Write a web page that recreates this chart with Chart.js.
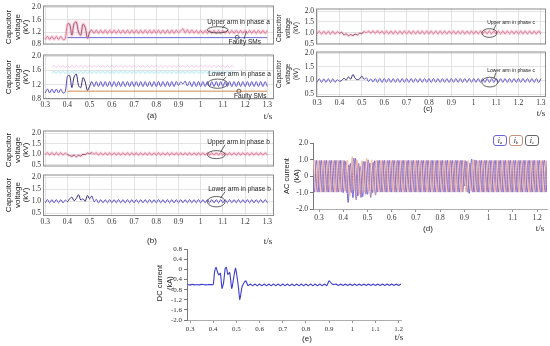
<!DOCTYPE html>
<html lang="en">
<head>
<meta charset="UTF-8">
<title>MMC fault waveforms</title>
<script src="https://cdn.jsdelivr.net/npm/chart.js"></script>
<style>
    body {
        margin: 0;
        width: 550px;
        height: 346px;
        position: relative;
        overflow: hidden;
        background: #fff;
        font-family: "Liberation Sans", Arial, sans-serif;
        color: #222;
    }
    canvas { position: absolute; }
    .lbl {
        position: absolute;
        white-space: nowrap;
        transform: translate(-50%, -50%);
    }
    .yt {
        position: absolute;
        white-space: nowrap;
        text-align: center;
        transform: translate(-50%, -50%) rotate(-90deg);
    }
    .leg {
        position: absolute;
        width: 12px;
        height: 9px;
        border: 1px solid;
        border-radius: 3px;
        background: #fff;
        font: italic 8px "Liberation Serif", serif;
        line-height: 9px;
        text-align: center;
    }
    .leg sub { font-size: 5px; vertical-align: -1px; }
</style>
</head>
<body>
<canvas id="a1"></canvas>
<canvas id="a2"></canvas>
<canvas id="b1"></canvas>
<canvas id="b2"></canvas>
<canvas id="c1"></canvas>
<canvas id="c2"></canvas>
<canvas id="d1"></canvas>
<canvas id="e1"></canvas>

<div class="yt" style="left:18px;top:27px;font-size:8px;line-height:8.5px">Capacitor<br>voltage<br>(kV)</div>
<div class="yt" style="left:18px;top:77px;font-size:8px;line-height:8.5px">Capacitor<br>voltage<br>(kV)</div>
<div class="yt" style="left:18px;top:150px;font-size:8px;line-height:8.5px">Capacitor<br>voltage<br>(kV)</div>
<div class="yt" style="left:18px;top:195px;font-size:8px;line-height:8.5px">Capacitor<br>voltage<br>(kV)</div>
<div class="yt" style="left:288px;top:28px;font-size:6.5px;line-height:8.5px">Capacitor<br>voltage<br>(kV)</div>
<div class="yt" style="left:288px;top:74px;font-size:6.5px;line-height:8.5px">Capacitor<br>voltage<br>(kV)</div>
<div class="yt" style="left:292px;top:176px;font-size:7.5px;line-height:10px">AC current<br>(kA)</div>
<div class="yt" style="left:164px;top:283px;font-size:7.5px;line-height:9.5px">DC current<br>(kA)</div>

<div class="lbl" style="left:152px;top:115px;font-size:8px">(a)</div>
<div class="lbl" style="left:268px;top:116px;font:9px 'Liberation Serif',serif">t/s</div>
<div class="lbl" style="left:152px;top:240px;font-size:8px">(b)</div>
<div class="lbl" style="left:268px;top:241px;font:9px 'Liberation Serif',serif">t/s</div>
<div class="lbl" style="left:428px;top:108px;font-size:8px">(c)</div>
<div class="lbl" style="left:541px;top:113px;font:9px 'Liberation Serif',serif">t/s</div>
<div class="lbl" style="left:428px;top:228px;font-size:8px">(d)</div>
<div class="lbl" style="left:540px;top:228px;font:9px 'Liberation Serif',serif">t/s</div>
<div class="lbl" style="left:307px;top:338px;font-size:8px">(e)</div>
<div class="lbl" style="left:399px;top:337px;font:9px 'Liberation Serif',serif">t/s</div>

<div class="leg" style="left:493px;top:135px;border-color:#6c63d9">i<sub>a</sub></div>
<div class="leg" style="left:509px;top:135px;border-color:#c8907a">i<sub>b</sub></div>
<div class="leg" style="left:525px;top:135px;border-color:#666">i<sub>c</sub></div>

<script>
// capacitor voltages, sampled every 10 ms from 0.30 s (peaks and troughs of the ripple)
const capStart = 0.30, capStep = 0.01;
const upperA = [
    0.96,1.06,0.96,1.06,0.96,1.06,0.96,1.06,0.96,0.98,
    1.45,1.45,1.10,1.47,1.52,1.20,1.10,1.45,1.35,1.00,
    1.20,1.26,1.16,1.26,1.16,1.26,1.16,1.26,1.16,1.26,
    1.16,1.26,1.16,1.26,1.16,1.26,1.16,1.26,1.16,1.26,
    1.16,1.26,1.16,1.26,1.16,1.26,1.16,1.26,1.16,1.26,
    1.16,1.26,1.16,1.26,1.16,1.26,1.16,1.26,1.16,1.26,
    1.18,1.24,1.30,1.18,1.27,1.17,1.26,1.17,1.25,1.16,
    1.25,1.16,1.25,1.16,1.25,1.16,1.25,1.16,1.25,1.16,
    1.25,1.16,1.25,1.16,1.25,1.16,1.25,1.16,1.25,1.16,
    1.25,1.16,1.25,1.16,1.25,1.16,1.25,1.16,1.25,1.16,
    1.25
];
const lowerA = [
    0.97,1.08,0.97,1.08,0.97,1.08,0.97,1.08,0.97,1.00,
    1.44,1.46,1.12,1.42,1.50,1.18,1.12,1.40,1.28,1.04,
    1.16,1.29,1.15,1.29,1.15,1.29,1.15,1.29,1.15,1.29,
    1.15,1.29,1.15,1.29,1.15,1.29,1.15,1.29,1.15,1.29,
    1.15,1.29,1.15,1.29,1.15,1.29,1.15,1.29,1.15,1.29,
    1.15,1.29,1.15,1.29,1.15,1.29,1.15,1.29,1.15,1.29,
    1.18,1.28,1.22,1.30,1.17,1.29,1.15,1.29,1.15,1.29,
    1.15,1.29,1.15,1.29,1.15,1.29,1.15,1.29,1.15,1.29,
    1.15,1.29,1.15,1.29,1.15,1.29,1.15,1.29,1.15,1.29,
    1.15,1.29,1.15,1.29,1.15,1.29,1.15,1.29,1.15,1.29,
    1.15
];
// faint traces left over in the lower-arm plot of phase a (0.33 s to 1.15 s)
const ghostStart = 0.33;
const ghostPink = [
    1.68,1.75,1.68,1.75,1.68,1.75,1.68,1.75,1.68,1.75,
    1.68,1.75,1.68,1.75,1.68,1.75,1.68,1.75,1.68,1.75,
    1.68,1.75,1.68,1.75,1.68,1.75,1.68,1.75,1.68,1.75,
    1.68,1.75,1.68,1.75,1.68,1.75,1.68,1.75,1.68,1.75,
    1.68,1.75,1.68,1.75,1.68,1.75,1.68,1.75,1.68,1.75,
    1.68,1.75,1.68,1.75,1.68,1.75,1.68,1.75,1.68,1.75,
    1.68,1.75,1.68,1.75,1.68,1.75,1.68,1.75,1.68,1.75,
    1.68,1.75,1.68,1.75,1.68,1.75,1.68,1.75,1.68,1.75,
    1.68,1.75,1.68
];
const ghostCyan = [
    1.52,1.58,1.52,1.58,1.52,1.58,1.52,1.58,1.52,1.58,
    1.52,1.58,1.52,1.58,1.52,1.58,1.52,1.58,1.52,1.58,
    1.52,1.58,1.52,1.58,1.52,1.58,1.52,1.58,1.52,1.58,
    1.52,1.58,1.52,1.58,1.52,1.58,1.52,1.58,1.52,1.58,
    1.52,1.58,1.52,1.58,1.52,1.58,1.52,1.58,1.52,1.58,
    1.52,1.58,1.52,1.58,1.52,1.58,1.52,1.58,1.52,1.58,
    1.52,1.58,1.52,1.58,1.52,1.58,1.52,1.58,1.52,1.58,
    1.52,1.58,1.52,1.58,1.52,1.58,1.52,1.58,1.52,1.58,
    1.52,1.58,1.52
];
const upperB = [
    0.96,1.08,0.96,1.08,0.96,1.08,0.96,1.08,0.96,1.06,
    0.98,0.94,0.90,0.96,0.88,0.95,0.91,1.00,0.98,1.06,
    1.02,1.08,1.00,1.07,0.96,1.07,0.96,1.07,0.96,1.07,
    0.96,1.07,0.96,1.07,0.96,1.07,0.96,1.07,0.96,1.07,
    0.96,1.07,0.96,1.07,0.96,1.07,0.96,1.07,0.96,1.07,
    0.96,1.07,0.96,1.07,0.96,1.07,0.96,1.07,0.96,1.07,
    0.96,1.07,0.96,1.07,0.96,1.07,0.96,1.07,0.96,1.07,
    0.96,1.07,0.96,1.07,0.96,1.07,0.96,1.07,0.96,1.07,
    0.96,1.07,0.96,1.07,0.96,1.07,0.96,1.07,0.96,1.07,
    0.96,1.07,0.96,1.07,0.96,1.07,0.96,1.07,0.96,1.07,
    0.96
];
const lowerB = [
    0.93,1.07,0.93,1.07,0.93,1.07,0.93,1.07,0.93,1.05,
    0.98,1.10,1.17,1.02,1.12,1.27,1.05,1.10,1.00,1.24,
    1.10,1.22,0.98,1.08,0.93,1.07,0.93,1.07,0.93,1.07,
    0.93,1.07,0.93,1.07,0.93,1.07,0.93,1.07,0.93,1.07,
    0.93,1.07,0.93,1.07,0.93,1.07,0.93,1.07,0.93,1.07,
    0.93,1.07,0.93,1.07,0.93,1.07,0.93,1.07,0.93,1.07,
    0.93,1.07,0.93,1.07,0.93,1.07,0.93,1.07,0.93,1.07,
    0.93,1.07,0.93,1.07,0.93,1.07,0.93,1.07,0.93,1.07,
    0.93,1.07,0.93,1.07,0.93,1.07,0.93,1.07,0.93,1.07,
    0.93,1.07,0.93,1.07,0.93,1.07,0.93,1.07,0.93,1.07,
    0.93
];
const upperC = [
    0.94,1.07,0.94,1.07,0.94,1.07,0.94,1.07,0.94,1.05,
    0.98,1.02,0.90,0.95,0.86,0.92,0.87,0.94,0.90,0.98,
    0.96,1.06,1.00,1.08,0.98,1.09,0.97,1.09,0.97,1.08,
    0.95,1.08,0.95,1.08,0.95,1.08,0.95,1.08,0.95,1.08,
    0.95,1.08,0.95,1.08,0.95,1.08,0.95,1.08,0.95,1.08,
    0.95,1.08,0.95,1.08,0.95,1.08,0.95,1.08,0.95,1.08,
    0.95,1.08,0.95,1.08,0.95,1.08,0.95,1.08,0.95,1.08,
    0.95,1.08,0.95,1.08,0.95,1.08,0.95,1.08,0.95,1.08,
    0.95,1.08,0.95,1.08,0.95,1.08,0.95,1.08,0.95,1.08,
    0.95,1.08,0.95,1.08,0.95,1.08,0.95,1.08,0.95,1.08,
    0.95
];
const lowerC = [
    0.93,1.06,0.93,1.06,0.93,1.06,0.93,1.06,0.93,1.03,
    0.97,1.00,1.08,1.02,1.13,1.05,1.22,1.08,1.03,1.06,
    1.16,1.04,1.10,0.96,1.06,0.94,1.07,0.93,1.07,0.93,
    1.07,0.93,1.07,0.93,1.07,0.93,1.07,0.93,1.07,0.93,
    1.07,0.93,1.07,0.93,1.07,0.93,1.07,0.93,1.07,0.93,
    1.07,0.93,1.07,0.93,1.07,0.93,1.07,0.93,1.07,0.93,
    1.07,0.93,1.07,0.93,1.07,0.93,1.07,0.93,1.07,0.93,
    1.07,0.93,1.07,0.93,1.07,0.93,1.07,0.93,1.07,0.93,
    1.07,0.93,1.07,0.93,1.07,0.93,1.07,0.93,1.07,0.93,
    1.07,0.93,1.07,0.93,1.07,0.93,1.07,0.93,1.07,0.93,
    1.07
];
// voltage of the faulty submodules (from the fault at 0.4 s)
const faultyT = [0.40, 1.30];
const faultyV = [1.02, 1.02];

// AC phase currents, half-cycle peaks every 10 ms from 0.27 s
const acStart = 0.27, acStep = 0.01;
const phaseShift = [0, 0.0067, 0.0133];
const ia = [
    0.97,-0.97,0.97,
    -0.97,0.97,-0.97,0.97,-0.97,0.97,-0.97,0.97,-0.97,0.97,
    -1.00,0.90,-1.60,0.80,-1.30,1.10,-1.20,0.60,-1.25,0.90,
    -1.10,0.80,-1.00,0.95,-0.97,0.97,-0.97,0.97,-0.97,0.97,
    -0.97,0.97,-0.97,0.97,-0.97,0.97,-0.97,0.97,-0.97,0.97,
    -0.97,0.97,-0.97,0.97,-0.97,0.97,-0.97,0.97,-0.97,0.97,
    -0.97,0.97,-0.97,0.97,-0.97,0.97,-0.97,0.97,-0.97,0.97,
    -0.60,0.90,-1.05,1.05,-0.97,0.97,-0.97,0.97,-0.97,0.97,
    -0.97,0.97,-0.97,0.97,-0.97,0.97,-0.97,0.97,-0.97,0.97,
    -0.97,0.97,-0.97,0.97,-0.97,0.97,-0.97,0.97,-0.97,0.97,
    -0.97,0.97,-0.97,0.97,-0.97
];
const ib = [
    0.97,-0.97,0.97,
    -0.97,0.97,-0.97,0.97,-0.97,0.97,-0.97,0.97,-0.97,0.97,
    -0.90,1.00,-1.20,1.20,-0.90,1.00,-1.10,0.95,-1.00,1.10,
    -0.90,1.00,-1.00,0.97,-0.97,0.97,-0.97,0.97,-0.97,0.97,
    -0.97,0.97,-0.97,0.97,-0.97,0.97,-0.97,0.97,-0.97,0.97,
    -0.97,0.97,-0.97,0.97,-0.97,0.97,-0.97,0.97,-0.97,0.97,
    -0.97,0.97,-0.97,0.97,-0.97,0.97,-0.97,0.97,-0.97,0.97,
    -0.97,0.97,-0.90,1.00,-0.97,0.97,-0.97,0.97,-0.97,0.97,
    -0.97,0.97,-0.97,0.97,-0.97,0.97,-0.97,0.97,-0.97,0.97,
    -0.97,0.97,-0.97,0.97,-0.97,0.97,-0.97,0.97,-0.97,0.97,
    -0.97,0.97,-0.97,0.97,-0.97
];
const ic = [
    0.97,-0.97,0.97,
    -0.97,0.97,-0.97,0.97,-0.97,0.97,-0.97,0.97,-0.97,0.97,
    -1.00,0.70,-1.00,1.10,-1.45,0.80,-1.30,0.90,-1.10,1.00,
    -1.30,0.85,-1.15,0.97,-0.97,0.97,-0.97,0.97,-0.97,0.97,
    -0.97,0.97,-0.97,0.97,-0.97,0.97,-0.97,0.97,-0.97,0.97,
    -0.97,0.97,-0.97,0.97,-0.97,0.97,-0.97,0.97,-0.97,0.97,
    -0.97,0.97,-0.97,0.97,-0.97,0.97,-0.97,0.97,-0.97,0.97,
    -0.97,0.80,-0.97,1.00,-0.97,0.97,-0.97,0.97,-0.97,0.97,
    -0.97,0.97,-0.97,0.97,-0.97,0.97,-0.97,0.97,-0.97,0.97,
    -0.97,0.97,-0.97,0.97,-0.97,0.97,-0.97,0.97,-0.97,0.97,
    -0.97,0.97,-0.97,0.97,-0.97
];

// DC current: steady parts every 10 ms, fault transient read point by point
const dcPreStart = 0.29;
const dcPre = [-0.60,-0.61,-0.59,-0.61,-0.60,-0.61,-0.59,-0.60,-0.61,-0.60,-0.60];
const dcFaultT = [0.400,0.406,0.412,0.417,0.424,0.431,0.438,0.445,0.452,0.457,0.463,
                  0.471,0.480,0.488,0.496,0.503,0.509,0.515,0.524,0.535,0.541,0.550];
const dcFaultI = [-0.60,-0.10,0.08,-0.05,-0.22,-0.15,-0.75,-0.50,0.05,0.08,-0.20,
                  -0.12,-0.75,-0.35,0.05,-0.30,-0.72,-1.20,-0.70,-0.50,-0.45,-0.64];
const dcPostStart = 0.56;
const dcPost = [
    -0.58,-0.64,-0.58,-0.64,
    -0.58,-0.64,-0.58,-0.64,-0.58,-0.64,-0.58,-0.64,-0.58,-0.64,
    -0.58,-0.64,-0.58,-0.64,-0.58,-0.64,-0.58,-0.64,-0.58,-0.64,
    -0.58,-0.64,-0.58,-0.64,-0.58,-0.64,-0.58,-0.64,-0.58,-0.64,
    -0.45,-0.55,-0.60,
    -0.58,-0.63,-0.58,-0.63,-0.58,-0.63,-0.58,-0.63,-0.58,-0.63,
    -0.58,-0.63,-0.58,-0.63,-0.58,-0.63,-0.58,-0.63,-0.58,-0.63,
    -0.58,-0.63,-0.58,-0.63,-0.58,-0.63,-0.58,-0.63,-0.58,-0.63
];

// axis ticks
const xTicks13 = [0.3,0.4,0.5,0.6,0.7,0.8,0.9,1,1.1,1.2,1.3];
const xTicks12 = [0.3,0.4,0.5,0.6,0.7,0.8,0.9,1,1.1,1.2];
const yTicksA = [0.8,1.2,1.6,2.0];
const yTicksBC = [0.5,1.0,1.5,2.0];
const yTicksAC = [-2,-1,0,1,2];
const yTicksDC = [-2.0,-1.6,-1.2,-0.8,-0.4,0,0.4,0.8];

function series(start, step, vals, shift) {
    return vals.map((v, i) => ({x: start + i * step + (shift || 0), y: v}));
}
function pairs(ts, vs) {
    return ts.map((t, i) => ({x: t, y: vs[i]}));
}

const PINK = '#d66683', PINK_DK = '#7a3050', BLUE = '#5a4fd0', BLUE_DK = '#36287e';

function faultSeg(dark) {
    return {borderColor: c => (c.p0.parsed.x >= 0.395 && c.p0.parsed.x < 0.505) ? dark : undefined};
}
function capLine(vals, color, dark) {
    return {data: series(capStart, capStep, vals), borderColor: color, borderWidth: 1, segment: faultSeg(dark)};
}
function halo(vals, color) {
    return {data: series(capStart, capStep, vals), borderColor: color, borderWidth: 3};
}

// annotations: ellipses, labels and leader lines in data units
const deco = {
    id: 'deco',
    beforeDatasetsDraw(chart, args, o) {
        const {ctx, scales: {x, y}} = chart;
        (o.shade || []).forEach(s => {
            const x0 = x.getPixelForValue(s.x0), x1 = x.getPixelForValue(s.x1);
            const y0 = y.getPixelForValue(s.y0), y1 = y.getPixelForValue(s.y1);
            ctx.fillStyle = s.c;
            ctx.fillRect(x0, y1, x1 - x0, y0 - y1);
        });
    },
    afterDatasetsDraw(chart, args, o) {
        const {ctx, chartArea: a, scales: {x, y}} = chart;
        ctx.save();
        if (o.frame) {
            ctx.strokeStyle = '#8c8c8c';
            ctx.lineWidth = 1;
            ctx.strokeRect(a.left + 0.5, a.top + 0.5, a.right - a.left - 1, a.bottom - a.top - 1);
        }
        ctx.strokeStyle = '#3c3c3c';
        ctx.lineWidth = 0.8;
        (o.ellipses || []).forEach(e => {
            const cx = x.getPixelForValue(e.x), cy = y.getPixelForValue(e.y);
            const rx = Math.abs(x.getPixelForValue(e.x + e.rx) - cx);
            const ry = Math.abs(y.getPixelForValue(e.y + e.ry) - cy);
            ctx.beginPath();
            ctx.ellipse(cx, cy, rx, ry, 0, 0, Math.PI * 2);
            ctx.stroke();
        });
        (o.circles || []).forEach(e => {
            ctx.beginPath();
            ctx.arc(x.getPixelForValue(e.x), y.getPixelForValue(e.y), 2, 0, Math.PI * 2);
            ctx.stroke();
        });
        (o.lines || []).forEach(l => {
            ctx.beginPath();
            ctx.moveTo(x.getPixelForValue(l[0]), y.getPixelForValue(l[1]));
            ctx.lineTo(x.getPixelForValue(l[2]), y.getPixelForValue(l[3]));
            ctx.stroke();
        });
        ctx.fillStyle = '#222';
        ctx.textBaseline = 'middle';
        (o.texts || []).forEach(t => {
            ctx.font = (t.size || 6.5) + 'px "Liberation Sans", Arial, sans-serif';
            ctx.fillText(t.s, x.getPixelForValue(t.x), y.getPixelForValue(t.y));
        });
        ctx.restore();
    }
};

const fmtY = v => v === 0 ? '0' : v.toFixed(1);

// box = plot area in page pixels
function drawPanel(id, box, xr, xt, yr, yt, datasets, o) {
    const cv = document.getElementById(id);
    const padL = 30, padT = 6, padR = 6, padB = o.xLabels ? 14 : 2;
    const tickFont = {family: '"Liberation Serif", "Times New Roman", serif', size: o.fs || 7.5};
    cv.width = box.r - box.l + padL + padR;
    cv.height = box.b - box.t + padT + padB;
    cv.style.left = (box.l - padL) + 'px';
    cv.style.top = (box.t - padT) + 'px';
    const axisLine = !o.frame;
    new Chart(cv, {
        type: 'line',
        data: {datasets: datasets},
        options: {
            responsive: false,
            animation: false,
            events: [],
            parsing: false,
            layout: {autoPadding: false, padding: {left: 0, top: padT, right: padR, bottom: 0}},
            elements: {point: {radius: 0}, line: {tension: o.tension == null ? 0.35 : o.tension, borderWidth: 1}},
            plugins: {legend: {display: false}, tooltip: {enabled: false}, deco: o},
            scales: {
                x: {
                    type: 'linear', min: xr[0], max: xr[1],
                    afterBuildTicks: s => { s.ticks = xt.map(v => ({value: v})); },
                    afterFit: s => { s.height = padB; },
                    grid: {display: true, drawOnChartArea: !!o.frame, drawTicks: axisLine, tickLength: 3,
                           color: o.frame ? '#dcdcdc' : '#777', lineWidth: 0.8},
                    border: {display: axisLine, color: '#999', width: 0.8},
                    ticks: {display: !!o.xLabels, font: tickFont, color: '#333', padding: 2,
                            autoSkip: false, maxRotation: 0, callback: v => String(v)}
                },
                y: {
                    type: 'linear', min: yr[0], max: yr[1],
                    afterBuildTicks: s => { s.ticks = yt.map(v => ({value: v})); },
                    afterFit: s => { s.width = padL; },
                    grid: {display: true, drawOnChartArea: !!o.frame, drawTicks: axisLine, tickLength: 3,
                           color: o.frame ? '#dcdcdc' : '#555', lineWidth: 0.8},
                    border: {display: axisLine, color: '#555', width: 0.8},
                    ticks: {font: tickFont, color: '#333', padding: 2, autoSkip: false, callback: fmtY}
                }
            }
        },
        plugins: [deco]
    });
}

drawPanel('a1', {l: 43, t: 5, r: 274, b: 49}, [0.29, 1.33], xTicks13, [0.8, 2.05], yTicksA, [
    halo(upperA, 'rgba(236,150,175,0.35)'),
    {data: pairs(faultyT, faultyV), borderColor: '#6a6ad8', borderWidth: 1, tension: 0},
    capLine(upperA, PINK, PINK_DK)
], {
    frame: true,
    shade: [{x0: 0.40, x1: 0.50, y0: 1.0, y1: 1.6, c: 'rgba(240,170,190,0.14)'}],
    texts: [{x: 1.03, y: 1.50, s: 'Upper arm in phase a'}, {x: 1.125, y: 0.885, s: 'Faulty SMs'}],
    ellipses: [{x: 1.076, y: 1.27, rx: 0.047, ry: 0.1}],
    circles: [{x: 1.164, y: 1.03}],
    lines: [[1.098, 1.33, 1.11, 1.43], [1.205, 1.22, 1.195, 0.97]]
});
drawPanel('a2', {l: 43, t: 54, r: 274, b: 99}, [0.29, 1.33], xTicks13, [0.8, 2.05], yTicksA, [
    {data: series(ghostStart, 0.01, ghostPink), borderColor: 'rgba(240,130,200,0.35)', borderWidth: 1},
    {data: series(ghostStart, 0.01, ghostCyan), borderColor: 'rgba(110,215,230,0.35)', borderWidth: 1.5},
    {data: pairs(faultyT, faultyV), borderColor: '#d08a50', borderWidth: 1, tension: 0},
    capLine(lowerA, BLUE, BLUE_DK)
], {
    frame: true, xLabels: true,
    texts: [{x: 1.034, y: 1.49, s: 'Lower arm in phase a'}, {x: 1.15, y: 0.87, s: 'Faulty SMs'}],
    ellipses: [{x: 1.076, y: 1.23, rx: 0.045, ry: 0.13}],
    circles: [{x: 1.172, y: 1.02}],
    lines: [[1.10, 1.33, 1.115, 1.42]]
});
drawPanel('b1', {l: 43, t: 130, r: 274, b: 171}, [0.29, 1.33], xTicks13, [0.42, 2.12], yTicksBC, [
    halo(upperB, 'rgba(236,150,175,0.3)'),
    capLine(upperB, PINK, PINK_DK)
], {
    frame: true,
    texts: [{x: 1.03, y: 1.58, s: 'Upper arm in phase b'}],
    ellipses: [{x: 1.07, y: 0.98, rx: 0.04, ry: 0.19}],
    lines: [[1.09, 1.12, 1.11, 1.45]]
});
drawPanel('b2', {l: 43, t: 174, r: 274, b: 216}, [0.29, 1.33], xTicks13, [0.38, 2.12], yTicksBC, [
    capLine(lowerB, BLUE, BLUE_DK)
], {
    frame: true, xLabels: true,
    texts: [{x: 1.034, y: 1.51, s: 'Lower arm in phase b'}],
    ellipses: [{x: 1.07, y: 0.98, rx: 0.04, ry: 0.22}],
    lines: [[1.09, 1.14, 1.11, 1.40]]
});
drawPanel('c1', {l: 316, t: 8, r: 546, b: 49}, [0.295, 1.323], xTicks13, [0.46, 2.12], yTicksBC, [
    halo(upperC, 'rgba(236,150,175,0.3)'),
    capLine(upperC, PINK, PINK_DK)
], {
    frame: true,
    texts: [{x: 1.06, y: 1.47, s: 'Upper arm in phase c', size: 5}],
    ellipses: [{x: 1.07, y: 0.99, rx: 0.034, ry: 0.2}],
    lines: [[1.088, 1.12, 1.10, 1.38]]
});
drawPanel('c2', {l: 316, t: 51, r: 546, b: 97}, [0.295, 1.323], xTicks13, [0.39, 2.07], yTicksBC, [
    capLine(lowerC, BLUE, BLUE_DK)
], {
    frame: true, xLabels: true,
    texts: [{x: 1.06, y: 1.38, s: 'Lower arm in phase c', size: 5}],
    ellipses: [{x: 1.072, y: 0.94, rx: 0.036, ry: 0.18}],
    lines: [[1.09, 1.07, 1.10, 1.30]]
});
drawPanel('d1', {l: 313, t: 143, r: 547, b: 209}, [0.275, 1.241], xTicks12, [-2, 2], yTicksAC, [
    {data: series(acStart, acStep, ic, phaseShift[2]), borderColor: '#a878b0'},
    {data: series(acStart, acStep, ib, phaseShift[1]), borderColor: '#f2b89c'},
    {data: series(acStart, acStep, ia, phaseShift[0]), borderColor: '#6c63d9'}
], {xLabels: true, tension: 0.4, fs: 7.5});
drawPanel('e1', {l: 187, t: 249, r: 401, b: 320}, [0.287, 1.21], xTicks12, [-2, 0.8], yTicksDC, [
    {data: series(dcPreStart, 0.01, dcPre).concat(pairs(dcFaultT, dcFaultI), series(dcPostStart, 0.01, dcPost)),
     borderColor: '#3b3bd0', borderWidth: 1.1}
], {xLabels: true, tension: 0.2, fs: 7});
</script>
</body>
</html>
